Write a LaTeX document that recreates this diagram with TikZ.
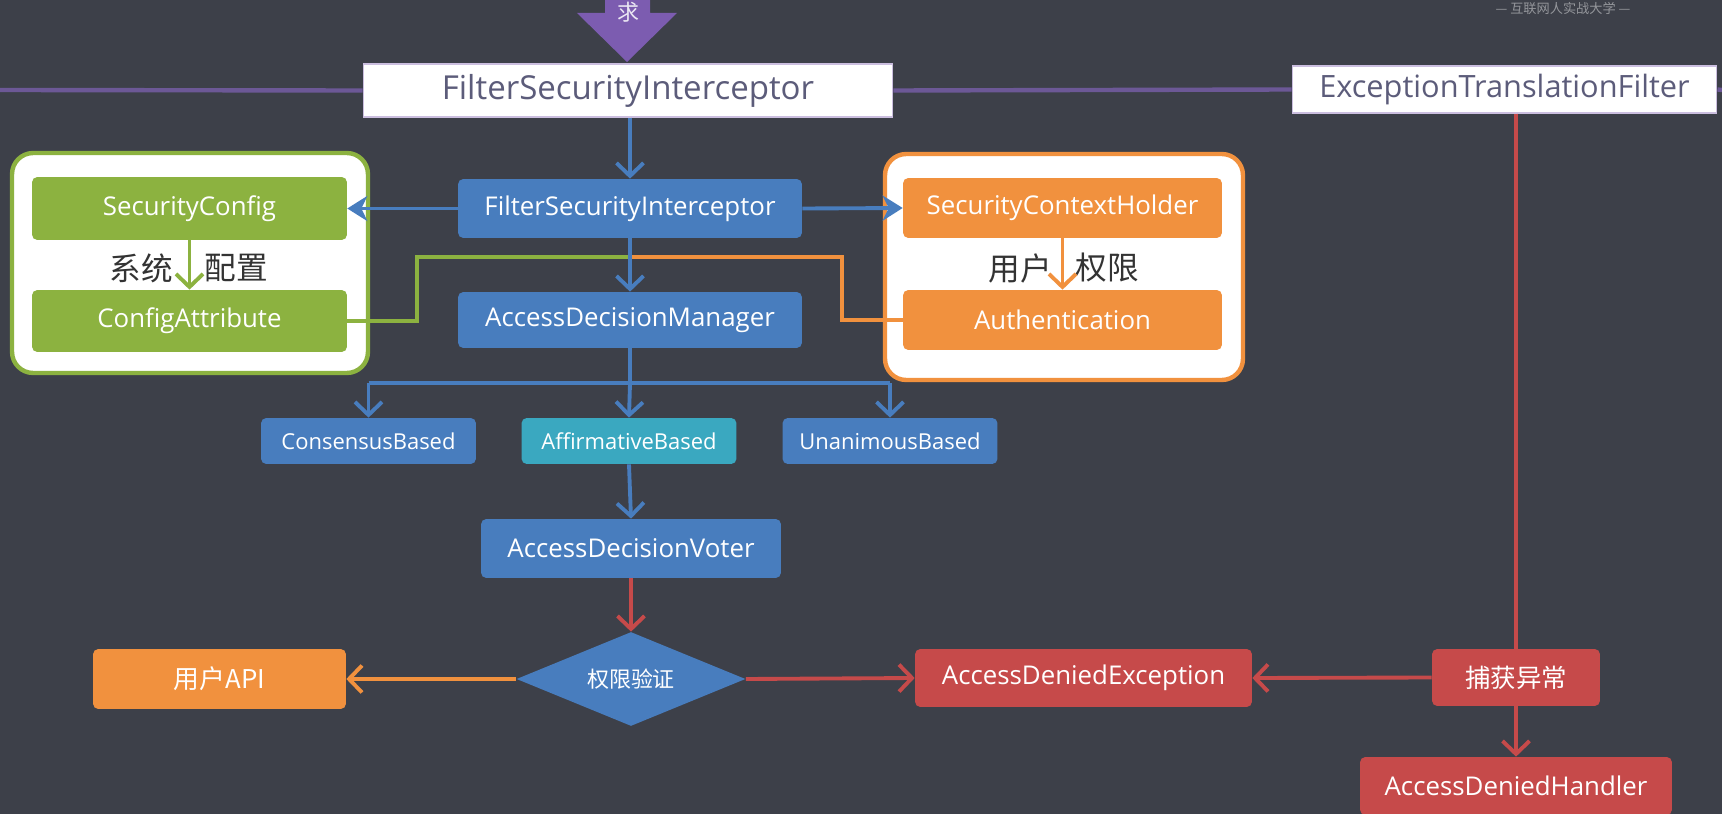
\documentclass[tikz,border=0pt]{standalone}
\usepackage{fontspec}
\setmainfont{Open Sans}
\newfontfamily\cjk{Noto Sans CJK SC}
\usetikzlibrary{shapes.geometric,arrows.meta}
\definecolor{bgC}{RGB}{61,64,73}
\definecolor{blueC}{RGB}{72,125,190}
\definecolor{tealC}{RGB}{58,168,192}
\definecolor{greenC}{RGB}{140,178,64}
\definecolor{orangeC}{RGB}{241,145,62}
\definecolor{redC}{RGB}{198,74,74}
\definecolor{purpleC}{RGB}{124,92,176}
\definecolor{lineC}{RGB}{108,88,150}
\definecolor{grayT}{RGB}{92,92,122}
\tikzset{
  box/.style={rectangle,rounded corners=3pt,inner sep=0pt,text=white,font=\fontsize{14.7}{17}\selectfont},
  bbox/.style={box,fill=blueC},
  sbox/.style={box,fill=blueC,minimum width=4.3cm,minimum height=.92cm,font=\fontsize{12.5}{15}\selectfont},
  wbox/.style={rectangle,fill=white,draw=purpleC!40,line width=.6pt,text=grayT,inner sep=0pt,font=\fontsize{18.8}{22}\selectfont},
  grp/.style={rectangle,rounded corners=12pt,fill=white,line width=2.5pt},
  conn/.style={line width=2.2pt},
  vtip/.style={conn,-{Straight Barb[length=2.6mm,width=5.4mm]}},
  ftip/.style={conn,-{Stealth[length=4mm,width=5mm,inset=1.2mm]}},
  lbl/.style={text=black!80,font=\cjk\fontsize{18}{20}\selectfont},
}
\begin{document}
\begin{tikzpicture}[x=0.02cm,y=-0.02cm]
	\fill[bgC] (0,0) rectangle (1722,814);
	\clip (0,0) rectangle (1722,814);
	% incoming request, cut off at the top edge
	\fill[purpleC] (605,-5)--(650,-5)--(650,13)--(677,13)--(627,62)--(577,13)--(605,13)--cycle;
	\node[text=white!85!purpleC,font=\cjk\fontsize{12.5}{14}\selectfont] (req) at (628,12){求};
	\node[text=white!45!bgC,font=\cjk\fontsize{7.5}{9}\selectfont] (mark) at (1563,8){— 互联网人实战大学 —};
	\node[wbox,minimum width=10.6cm,minimum height=1.06cm] (topFSI) at (628,90.5){FilterSecurityInterceptor};
	\node[wbox,minimum width=8.5cm,minimum height=.94cm,font=\fontsize{17.5}{20}\selectfont] (ETF) at (1504.5,89.5){ExceptionTranslationFilter};
	\coordinate (chainL) at (0,90);
	\coordinate (chainR) at (1722,90);
	\draw[lineC,line width=2.5pt] (chainL)--(topFSI.west) (topFSI.east)--(ETF.west) (ETF.east)--(chainR);
	\node[grp,draw=greenC,minimum width=7.12cm,minimum height=4.4cm] (grpL) at (190,263){};
	\node[grp,draw=orangeC,minimum width=7.16cm,minimum height=4.52cm] (grpR) at (1064,267){};
	\node[box,fill=greenC,minimum width=6.3cm,minimum height=1.26cm] (secCfg) at (189.5,208.5){SecurityConfig};
	\node[box,fill=greenC,minimum width=6.3cm,minimum height=1.24cm] (cfgAttr) at (189.5,321){ConfigAttribute};
	\node[bbox,minimum width=6.88cm,minimum height=1.18cm] (FSI) at (630,208.5){FilterSecurityInterceptor};
	\node[box,fill=orangeC,minimum width=6.38cm,minimum height=1.2cm] (SCH) at (1062.5,208){SecurityContextHolder};
	\node[box,fill=orangeC,minimum width=6.38cm,minimum height=1.2cm] (auth) at (1062.5,320){Authentication};
	\node[bbox,minimum width=6.88cm,minimum height=1.12cm] (ADM) at (630,320){AccessDecisionManager};
	\node[sbox] (cons) at (368.5,441){ConsensusBased};
	\node[sbox,fill=tealC] (affirm) at (629,441){AffirmativeBased};
	\node[sbox] (unan) at (890,441){UnanimousBased};
	\node[bbox,minimum width=6cm,minimum height=1.18cm] (ADV) at (631,548.5){AccessDecisionVoter};
	\node[diamond,fill=blueC,text=white,inner sep=0pt,shape aspect=2.4,minimum width=4.58cm,minimum height=1.88cm,font=\cjk\fontsize{12.5}{15}\selectfont] (check) at (631,679){权限验证};
	\node[box,fill=orangeC,minimum width=5.06cm,minimum height=1.2cm,font=\cjk\fontsize{14.7}{17}\selectfont] (api) at (219.5,679){用户API};
	\node[box,fill=redC,minimum width=6.74cm,minimum height=1.16cm] (ADE) at (1083.5,678){AccessDeniedException};
	\node[box,fill=redC,minimum width=3.36cm,minimum height=1.14cm,font=\cjk\fontsize{14.5}{17}\selectfont] (catch) at (1516,677.5){捕获异常};
	\node[box,fill=redC,minimum width=6.24cm,minimum height=1.16cm] (ADH) at (1516,786){AccessDeniedHandler};
	\node[lbl] (sysL) at (141,268){系统};
	\node[lbl] (cfgL) at (236,268){配置};
	\node[lbl] (usrL) at (1020,268){用户};
	\node[lbl] (permL) at (1107,268){权限};
	% config and user rights meet on the centre line
	\coordinate (meet) at (630,257);
	\draw[conn,greenC] (cfgAttr.east)--++(70,0)|-(meet);
	\draw[conn,orangeC] (auth.west)--++(-61,0)|-(meet);
	\draw[vtip,blueC] (FSI.north|-topFSI.south)--(FSI.north);
	\draw[ftip,blueC] (FSI.west)--(secCfg.east);
	\draw[ftip,blueC] (FSI.east)--(SCH.west);
	\draw[vtip,blueC] (FSI.south)--(ADM.north);
	\draw[conn,blueC] (ADM.south)--++(0,35)coordinate(fork);
	\draw[conn,blueC] (cons.north|-fork)--(unan.north|-fork);
	\draw[vtip,blueC] (fork)--(affirm.north);
	\draw[vtip,blueC] (cons.north|-fork)--(cons.north);
	\draw[vtip,blueC] (unan.north|-fork)--(unan.north);
	\draw[vtip,blueC] (affirm.south)--(ADV.north);
	\draw[vtip,greenC] (secCfg.south)--(cfgAttr.north);
	\draw[vtip,orangeC] (SCH.south)--(auth.north);
	\draw[vtip,redC] (ADV.south)--(check.north);
	\draw[vtip,orangeC] (check.west)--(api.east);
	\draw[vtip,redC] (check.east)--(ADE.west);
	\draw[vtip,redC] (catch.west)--(ADE.east);
	\draw[vtip,redC] (catch.south)--(ADH.north);
	\draw[conn,redC,line width=1.8pt] (catch.north|-ETF.south)--(catch.north);
\end{tikzpicture}
\end{document}
